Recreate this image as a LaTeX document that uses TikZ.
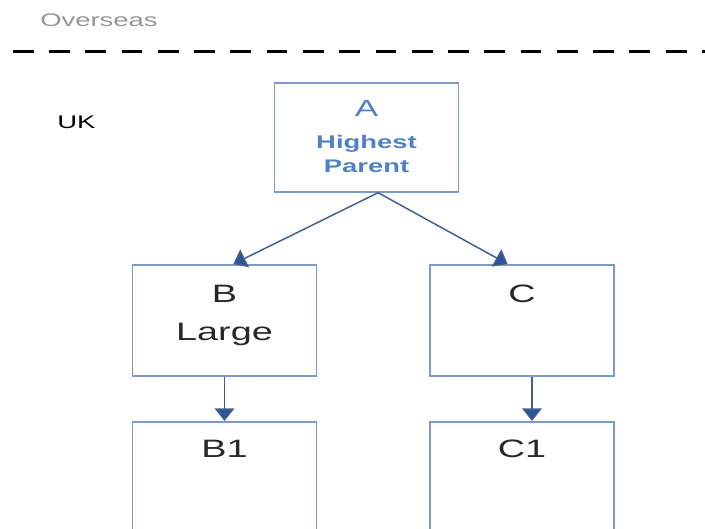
\documentclass[tikz,border=0pt]{standalone}
\usepackage{fontspec}
\setmainfont{Liberation Sans}[FakeStretch=1.5]
\usetikzlibrary{arrows.meta}
\definecolor{boxblue}{RGB}{125,155,200}
\definecolor{textblue}{RGB}{80,130,195}
\definecolor{arrowblue}{RGB}{65,95,145}
\definecolor{tipblue}{RGB}{45,85,150}
\definecolor{labelgrey}{RGB}{150,150,150}
\definecolor{textdark}{RGB}{40,40,40}

\begin{document}
\begin{tikzpicture}[x=0.025cm, y=-0.025cm,
    box/.style={draw=boxblue, line width=1.2pt, minimum width=4.6cm, anchor=north, inner sep=0pt},
    big/.style={font=\fontsize{17.9}{20}\selectfont, text=textdark, anchor=base, inner sep=0pt},
    small/.style={font=\fontsize{13}{15}\selectfont, anchor=base west, inner sep=0pt},
    arr/.style={draw=arrowblue, line width=1.05pt, -{Triangle[width=14pt,length=9pt,fill=tipblue]}}]

    \clip (0,0) rectangle (705,528);

    % === Overseas / UK split ===
    \node[small, text=labelgrey] (over) at (40,26) {Overseas};
    \draw[line width=2.6pt, dash pattern=on 14.8pt off 11pt] (12.7,51.5) -- (720,51.5);
    \node[small, text=black] (uk) at (57,128) {UK};

    % === Top box ===
    \node[box, minimum height=2.725cm] (A) at (366.5,82) {};
    \node[big, text=textblue, font=\fontsize{16.6}{18}\selectfont] (Aname) at (366.5,116.5) {A};
    \node[big, text=textblue, font=\fontsize{13}{15}\selectfont\bfseries] (Ahigh) at (366.5,148) {Highest};
    \node[big, text=textblue, font=\fontsize{13}{15}\selectfont\bfseries] (Apar) at (366.5,172) {Parent};

    % === Middle line ===
    \node[box, minimum height=2.775cm] (B) at (224.5,264) {};
    \node[big] (Bname) at (224.5,302) {B};
    \node[big] (Bsize) at (224.5,340) {Large};
    \node[box, minimum height=2.775cm] (C) at (522,264) {};
    \node[big] (Cname) at (522,302) {C};

    % === Lower line ===
    \node[box, minimum height=3.5cm] (B1) at (224.5,421) {};
    \node[big] (B1name) at (224.5,457) {B1};
    \node[box, minimum height=3.5cm] (C1) at (522,421) {};
    \node[big] (C1name) at (522,457) {C1};

    \draw[arr] ([xshift=0.29cm]A.south) -- ([xshift=0.22cm]B.north);
    \draw[arr] ([xshift=0.29cm]A.south) -- ([xshift=-0.36cm]C.north);
    \draw[arr] (B.south) -- (B1.north);
    \draw[arr] ([xshift=0.25cm]C.south) -- ([xshift=0.25cm]C1.north);
\end{tikzpicture}
\end{document}
